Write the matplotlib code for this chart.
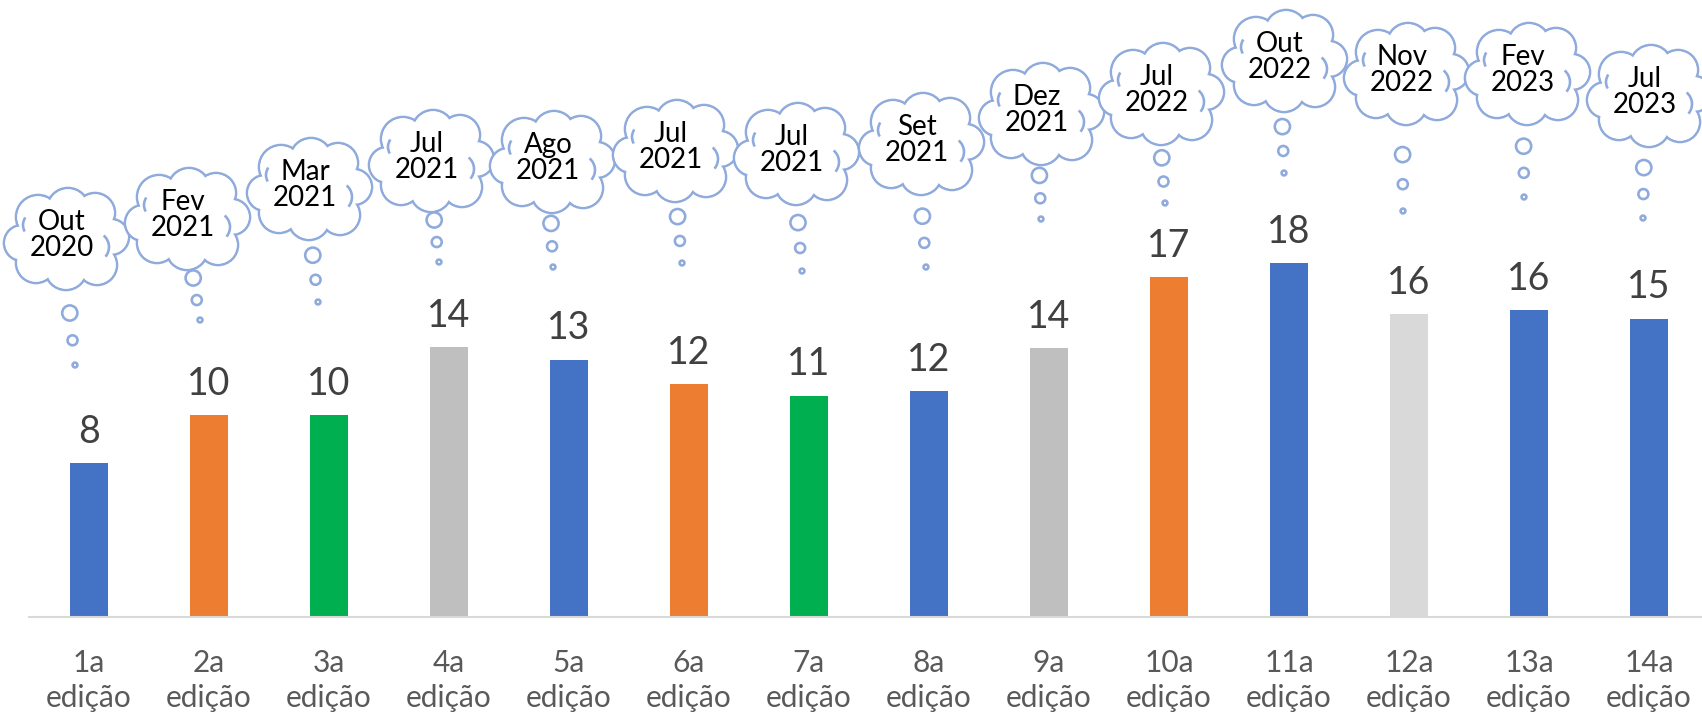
import matplotlib.pyplot as plt
from matplotlib.patches import Circle, Polygon, Arc

plt.rcParams['font.family'] = ['Lato', 'DejaVu Sans']

# dados
edicoes = ['1a\nedição', '2a\nedição', '3a\nedição', '4a\nedição', '5a\nedição',
           '6a\nedição', '7a\nedição', '8a\nedição', '9a\nedição', '10a\nedição',
           '11a\nedição', '12a\nedição', '13a\nedição', '14a\nedição']
valores = [7.9, 10.35, 10.35, 13.85, 13.2, 11.95, 11.35, 11.6, 13.8, 17.45,
           18.15, 15.55, 15.75, 15.3]
datas = ['Out\n2020', 'Fev\n2021', 'Mar\n2021', 'Jul\n2021', 'Ago\n2021',
         'Jul\n2021', 'Jul\n2021', 'Set\n2021', 'Dez\n2021', 'Jul\n2022',
         'Out\n2022', 'Nov\n2022', 'Fev\n2023', 'Jul\n2023']

azul, laranja, verde = '#4472C4', '#ED7D31', '#00B050'
cinza, cinza_claro = '#BFBFBF', '#D9D9D9'
cores = [azul, laranja, verde, cinza, azul, laranja, verde, azul, cinza,
         laranja, azul, cinza_claro, azul, azul]

# posicao das nuvens (pixels): deslocamento x em relacao a barra, y a partir do topo
nuvem_dx = [-27, -26, -24, -22, -21, -18, -17, -12, -12, -12, -9, -7, -6, -4]
nuvem_y = [235, 215, 185, 157, 158, 147, 150, 140, 110, 90, 57, 70, 70, 92]
# fim da "cauda" de bolhas em relacao ao texto
cauda = [(13, 130), (17, 105), (13, 117), (12, 105), (5, 109), (11, 116), (10, 121),
         (9, 127), (4, 109), (8, 113), (4, 116), (1, 141), (1, 127), (-2, 126)]

W, H = 1702, 714
fig = plt.figure(figsize=(W / 100, H / 100), dpi=100)
ax = fig.add_axes([29 / W, 97 / H, 1680 / W, 617 / H])

x = list(range(len(valores)))
ax.bar(x, valores, width=0.32, color=cores, zorder=2)
ax.set_xlim(-0.5, 13.5)
ax.set_ylim(0, 617 / 19.5)

for i, v in enumerate(valores):
    ax.annotate(f'{v:.0f}', (i, v), xytext=(0, 9.5), textcoords='offset points',
                ha='center', va='bottom', fontsize=27, color='#404040')

for s in ['top', 'right', 'left']:
    ax.spines[s].set_visible(False)
ax.spines['bottom'].set_color('#D9D9D9')
ax.spines['bottom'].set_linewidth(1.5)
ax.set_yticks([])
ax.set_xticks(x, edicoes, fontfamily=['Lato', 'DejaVu Sans'], fontsize=21.5,
              color='#595959', linespacing=1.3)
ax.tick_params(axis='x', length=0, pad=23)

# camada em pixels para as nuvens
ov = fig.add_axes([0, 0, 1, 1])
ov.set_xlim(0, W)
ov.set_ylim(H, 0)
ov.axis('off')

cor_nuvem = '#8FAADC'
lw_px = 2.6
lw = lw_px * 0.72

# forma da nuvem: (dx, dy, raio) em torno do centro
bolhas_nuvem = [(-44, 4, 18), (-28, -22, 22), (2, -30, 21), (29, -26, 20),
                (45, -2, 18), (31, 26, 20), (0, 30, 21), (-30, 24, 20)]
curvas = [(28, 8, 15, -50, 40), (-30, -14, 13, 150, 215)]

fig.canvas.draw()
for i, data in enumerate(datas):
    bx = ax.transData.transform((i, 0))[0]
    tx = bx + nuvem_dx[i]
    ty = nuvem_y[i]
    cx, cy = tx + 4, ty + 4
    z = 10 + 4 * i
    for dx, dy, r in bolhas_nuvem:
        ov.add_patch(Circle((cx + dx, cy + dy), r, facecolor='white',
                            edgecolor=cor_nuvem, lw=lw, zorder=z))
    for dx, dy, r in bolhas_nuvem:
        ov.add_patch(Circle((cx + dx, cy + dy), r - lw_px / 2, facecolor='white',
                            edgecolor='none', zorder=z + 1))
    pts = [(cx + dx, cy + dy) for dx, dy, r in bolhas_nuvem]
    ov.add_patch(Polygon(pts, closed=True, facecolor='white', edgecolor='none',
                         zorder=z + 1))
    for dx, dy, r, t1, t2 in curvas:
        ov.add_patch(Arc((cx + dx, cy + dy), 2 * r, 2 * r, theta1=t1, theta2=t2,
                         color=cor_nuvem, lw=lw, zorder=z + 2))
    ov.text(tx, ty, data, ha='center', va='center', fontsize=20, color='black',
            linespacing=1.0, zorder=z + 3)
    # bolhas de pensamento
    ex, ey = cauda[i]
    for t, r in [(0.6, 7.6), (0.81, 5.0), (1.0, 2.4)]:
        ov.add_patch(Circle((tx + ex * t, ty + ey * t), r, facecolor='none',
                            edgecolor=cor_nuvem, lw=lw, zorder=z))

fig.savefig('out.png', dpi=100)
